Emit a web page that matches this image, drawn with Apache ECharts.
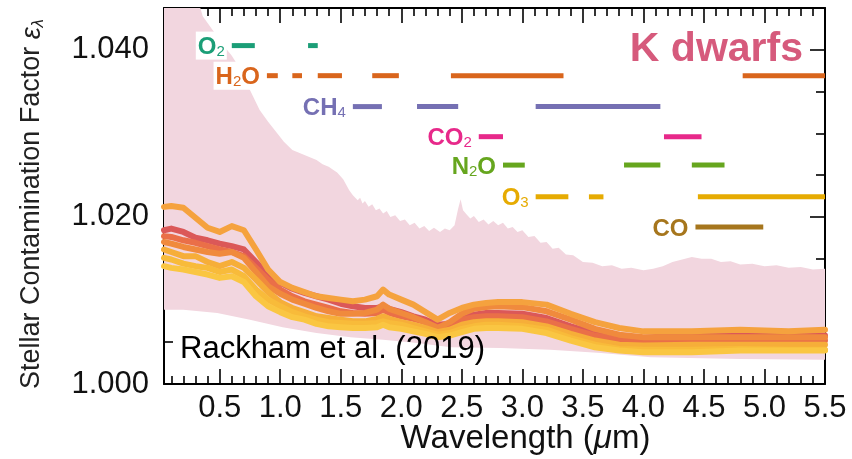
<!DOCTYPE html>
<html>
<head>
<meta charset="utf-8">
<script src="https://cdn.jsdelivr.net/npm/echarts@6/dist/echarts.min.js"></script>
<style>
  html, body { margin: 0; padding: 0; background: #fff; }
  #chart { width: 852px; height: 459px; }
</style>
</head>
<body>
<div id="chart"></div>
<script>
// Wavelength grid (µm) shared by the contamination-factor curves
const wavelength = [0.04, 0.1, 0.2, 0.3, 0.4, 0.5, 0.6, 0.7, 0.8, 0.9,
  1.0, 1.1, 1.2, 1.3, 1.4, 1.5, 1.6, 1.7, 1.8, 1.85,
  1.9, 2.0, 2.1, 2.2, 2.3, 2.4, 2.5, 2.6, 2.7, 2.8,
  3.0, 3.2, 3.4, 3.6, 3.8, 4.0, 4.4, 4.8, 5.2, 5.5];

// Stellar contamination factor curves for the K-dwarf spot/faculae models
const curveRed = [1.0184, 1.0186, 1.0182, 1.0175, 1.0172, 1.0168, 1.0165, 1.0161, 1.0146, 1.0131,
  1.0121, 1.0114, 1.0109, 1.0105, 1.0101, 1.0096, 1.0093, 1.0091, 1.0091, 1.0093,
  1.0090, 1.0086, 1.0081, 1.0077, 1.0071, 1.0072, 1.0079, 1.0083, 1.0085, 1.0085,
  1.0084, 1.0079, 1.0069, 1.0061, 1.0056, 1.0055, 1.0060, 1.0060, 1.0058, 1.0058];
const curveRedOrange = [1.0177, 1.0176, 1.0172, 1.0169, 1.0165, 1.0161, 1.0158, 1.0153, 1.0139, 1.0125,
  1.0113, 1.0105, 1.0099, 1.0095, 1.0091, 1.0087, 1.0085, 1.0084, 1.0085, 1.0089,
  1.0085, 1.0081, 1.0078, 1.0074, 1.0068, 1.0069, 1.0077, 1.0080, 1.0081, 1.0081,
  1.0080, 1.0075, 1.0066, 1.0058, 1.0053, 1.0052, 1.0053, 1.0053, 1.0052, 1.0052];
const curveOrange = [1.0170, 1.0168, 1.0164, 1.0161, 1.0158, 1.0156, 1.0158, 1.0151, 1.0134, 1.0117,
  1.0108, 1.0101, 1.0096, 1.0091, 1.0087, 1.0084, 1.0084, 1.0085, 1.0089, 1.0095,
  1.0090, 1.0085, 1.0080, 1.0074, 1.0067, 1.0074, 1.0084, 1.0090, 1.0092, 1.0093,
  1.0092, 1.0087, 1.0077, 1.0066, 1.0059, 1.0056, 1.0056, 1.0056, 1.0056, 1.0056];
const curveAmber = [1.0212, 1.0213, 1.0211, 1.0199, 1.0187, 1.0182, 1.0189, 1.0184, 1.0161, 1.0137,
  1.0122, 1.0115, 1.0110, 1.0105, 1.0103, 1.0101, 1.0099, 1.0101, 1.0105, 1.0113,
  1.0107, 1.0101, 1.0095, 1.0086, 1.0077, 1.0085, 1.0091, 1.0095, 1.0097, 1.0098,
  1.0098, 1.0095, 1.0084, 1.0074, 1.0067, 1.0063, 1.0063, 1.0065, 1.0063, 1.0065];
const curveGold = [1.0161, 1.0158, 1.0153, 1.0153, 1.0146, 1.0141, 1.0146, 1.0139, 1.0125, 1.0110,
  1.0098, 1.0091, 1.0086, 1.0081, 1.0079, 1.0077, 1.0075, 1.0075, 1.0078, 1.0081,
  1.0078, 1.0074, 1.0071, 1.0067, 1.0062, 1.0065, 1.0071, 1.0074, 1.0075, 1.0075,
  1.0074, 1.0069, 1.0060, 1.0052, 1.0047, 1.0046, 1.0047, 1.0047, 1.0047, 1.0047];
const curveYellow = [1.0151, 1.0149, 1.0144, 1.0141, 1.0139, 1.0134, 1.0137, 1.0129, 1.0113, 1.0101,
  1.0093, 1.0086, 1.0081, 1.0077, 1.0074, 1.0073, 1.0072, 1.0072, 1.0073, 1.0075,
  1.0073, 1.0071, 1.0067, 1.0063, 1.0059, 1.0061, 1.0066, 1.0069, 1.0071, 1.0071,
  1.0069, 1.0065, 1.0055, 1.0047, 1.0042, 1.0041, 1.0041, 1.0042, 1.0041, 1.0041];
const curvePaleYellow = [1.0141, 1.0139, 1.0137, 1.0134, 1.0131, 1.0127, 1.0129, 1.0122, 1.0105, 1.0093,
  1.0086, 1.0080, 1.0077, 1.0072, 1.0069, 1.0068, 1.0067, 1.0067, 1.0068, 1.0071,
  1.0068, 1.0066, 1.0063, 1.0060, 1.0056, 1.0058, 1.0062, 1.0066, 1.0067, 1.0067,
  1.0066, 1.0061, 1.0052, 1.0044, 1.0040, 1.0038, 1.0038, 1.0040, 1.0040, 1.0040];

// Full range of the contamination factor: upper and lower edges [wavelength, factor]
const envelopeUpper = [[0.04, 1.0450], [0.34, 1.0450], [0.36, 1.0440], [0.40, 1.0432], [0.44, 1.0424],
  [0.50, 1.0412], [0.56, 1.0400], [0.60, 1.0393], [0.63, 1.0386], [0.69, 1.0368], [0.75, 1.0352],
  [0.79, 1.0340], [0.83, 1.0328], [0.90, 1.0314], [0.97, 1.0301], [1.03, 1.0290], [1.10, 1.0280],
  [1.15, 1.0277], [1.20, 1.0274], [1.25, 1.0271], [1.30, 1.0268], [1.35, 1.0263], [1.40, 1.0260],
  [1.47, 1.0253], [1.52, 1.0245], [1.57, 1.0232], [1.60, 1.0226], [1.64, 1.0220], [1.66, 1.0223],
  [1.68, 1.0216], [1.70, 1.0219], [1.73, 1.0212], [1.76, 1.0215], [1.79, 1.0208], [1.82, 1.0210],
  [1.85, 1.0204], [1.88, 1.0207], [1.91, 1.0200], [1.95, 1.0202], [1.99, 1.0195], [2.03, 1.0197],
  [2.07, 1.0190], [2.11, 1.0193], [2.15, 1.0186], [2.19, 1.0189], [2.23, 1.0183], [2.27, 1.0187],
  [2.32, 1.0182], [2.36, 1.0186], [2.40, 1.0184], [2.44, 1.0190], [2.47, 1.0210], [2.49, 1.0221],
  [2.51, 1.0208], [2.54, 1.0203], [2.57, 1.0198], [2.60, 1.0201], [2.64, 1.0194], [2.68, 1.0197],
  [2.72, 1.0191], [2.76, 1.0195], [2.80, 1.0190], [2.84, 1.0193], [2.88, 1.0186], [2.92, 1.0188],
  [2.96, 1.0182], [3.00, 1.0184], [3.05, 1.0176], [3.10, 1.0177], [3.15, 1.0169], [3.20, 1.0170],
  [3.25, 1.0162], [3.30, 1.0163], [3.36, 1.0155], [3.42, 1.0154], [3.50, 1.0146], [3.58, 1.0145],
  [3.66, 1.0141], [3.74, 1.0142], [3.82, 1.0138], [3.90, 1.0139], [4.00, 1.0136], [4.08, 1.0138],
  [4.16, 1.0141], [4.24, 1.0146], [4.32, 1.0149], [4.40, 1.0152], [4.48, 1.0150], [4.56, 1.0150],
  [4.64, 1.0146], [4.72, 1.0147], [4.80, 1.0143], [4.90, 1.0144], [5.00, 1.0141], [5.10, 1.0142],
  [5.20, 1.0139], [5.30, 1.0140], [5.40, 1.0137], [5.50, 1.0138]];
const envelopeLower = [[0.04, 1.0089], [0.20, 1.0089], [0.48, 1.0085], [0.75, 1.0077], [1.02, 1.0068],
  [1.30, 1.0061], [1.58, 1.0056], [1.85, 1.0053], [2.13, 1.0049], [2.41, 1.0044], [2.82, 1.0043],
  [3.23, 1.0041], [3.65, 1.0037], [4.06, 1.0032], [4.80, 1.0030], [5.50, 1.0029]];

// Molecular absorption bands (µm ranges) and the row each is drawn on
const moleculeNames = ['O2', 'H2O', 'CH4', 'CO2', 'N2O', 'O3', 'CO'];
const moleculeRows = [1.0405, 1.0369, 1.0332, 1.0296, 1.0262, 1.0224, 1.0188];
const bandsO2 = [[0.60, 0.79], [1.23, 1.31]];
const bandsH2O = [[0.89, 0.98], [1.10, 1.18], [1.31, 1.51], [1.76, 1.98], [2.41, 3.34], [4.82, 5.50]];
const bandsCH4 = [[1.60, 1.84], [2.13, 2.47], [3.11, 4.14]];
const bandsCO2 = [[2.64, 2.84], [4.17, 4.48]];
const bandsN2O = [[2.84, 3.02], [3.84, 4.14], [4.40, 4.67]];
const bandsO3 = [[3.11, 3.38], [3.55, 3.67], [4.45, 5.50]];
const bandsCO = [[4.43, 4.99]];

// Axis ticks
const xMajorTicks = [0.5, 1.0, 1.5, 2.0, 2.5, 3.0, 3.5, 4.0, 4.5, 5.0, 5.5];
const yMajorTicks = [1.000, 1.020, 1.040];
const yMinorTicks = [1.005, 1.010, 1.015, 1.025, 1.030, 1.035];
const xMinorTicks = [];
for (let i = 1; i <= 54; i++) { if (i % 5 !== 0) xMinorTicks.push(i / 10); }

const FONT = 'Liberation Sans, Arial, Helvetica, sans-serif';
const X_MIN = 0.04, X_MAX = 5.5, Y_MIN = 1.0, Y_MAX = 1.045;

const bandSets = [bandsO2, bandsH2O, bandsCH4, bandsCO2, bandsN2O, bandsO3, bandsCO];
const bandColors = ['#1b9e77', '#d9651c', '#7570b3', '#e7298a', '#66a61e', '#e6ab02', '#a6761d'];
const bandLabels = ['{b|O}{s|2}', '{b|H}{s|2}{b|O}', '{b|CH}{s|4}', '{b|CO}{s|2}', '{b|N}{s|2}{b|O}', '{b|O}{s|3}', '{b|CO}'];

const curveSeries = [
  { name: 'red', data: curveRed, color: '#db5858' },
  { name: 'redOrange', data: curveRedOrange, color: '#ea6f48' },
  { name: 'orange', data: curveOrange, color: '#f08a3d' },
  { name: 'amber', data: curveAmber, color: '#f5a23e' },
  { name: 'gold', data: curveGold, color: '#f6ae39' },
  { name: 'yellow', data: curveYellow, color: '#f8bb3a' },
  { name: 'paleYellow', data: curvePaleYellow, color: '#fac642' }
].map(c => ({
  type: 'line',
  name: c.name,
  data: wavelength.map((w, i) => [w, c.data[i]]),
  showSymbol: false,
  silent: true,
  clip: true,
  lineStyle: { color: c.color, width: 6, join: 'round', cap: 'round' },
  z: 3
}));

const bandSeries = [];
bandSets.forEach((spans, k) => {
  bandSeries.push({
    type: 'custom',
    name: moleculeNames[k] + ' bands',
    silent: true,
    z: 5,
    data: spans.map(s => [s[0], s[1], moleculeRows[k]]),
    encode: { x: [0, 1], y: 2 },
    renderItem: (params, api) => {
      const p0 = api.coord([api.value(0), api.value(2)]);
      const p1 = api.coord([api.value(1), api.value(2)]);
      return {
        type: 'line',
        shape: { x1: p0[0], y1: p0[1], x2: p1[0], y2: p1[1] },
        style: { stroke: bandColors[k], lineWidth: 5, lineCap: 'butt' }
      };
    }
  });
  bandSeries.push({
    type: 'scatter',
    name: moleculeNames[k],
    silent: true,
    z: 6,
    symbolSize: 0,
    itemStyle: { opacity: 1 },
    data: [[spans[0][0], moleculeRows[k]]],
    label: {
      show: true,
      position: 'left',
      distance: 5,
      formatter: bandLabels[k],
      backgroundColor: '#ffffff',
      padding: [0, 2, 0, 2],
      rich: {
        b: { fontFamily: FONT, fontSize: 24, fontWeight: 'bold', color: bandColors[k], lineHeight: 28, verticalAlign: 'bottom' },
        s: { fontFamily: FONT, fontSize: 15, color: bandColors[k], lineHeight: 14, verticalAlign: 'bottom' }
      }
    }
  });
});

const envelopeSeries = {
  type: 'custom',
  name: 'range',
  silent: true,
  z: 1,
  data: [envelopeUpper[0]],
  renderItem: (params, api) => {
    const pts = envelopeUpper.map(p => api.coord(p));
    for (let i = envelopeLower.length - 1; i >= 0; i--) pts.push(api.coord(envelopeLower[i]));
    return { type: 'polygon', shape: { points: pts }, style: { fill: '#f2d6df' } };
  }
};

const axisLineStyle = { color: '#000', width: 2 };
const tickStyle = { color: '#000', width: 1.6 };

function xAxisDef(position, major) {
  return {
    type: 'value', position, min: X_MIN, max: X_MAX,
    axisLine: { show: major, lineStyle: axisLineStyle },
    axisTick: { show: true, inside: true, length: major ? 15 : 8, customValues: major ? xMajorTicks : xMinorTicks, lineStyle: tickStyle },
    axisLabel: { show: false },
    splitLine: { show: false }
  };
}
function yAxisDef(position, major) {
  return {
    type: 'value', position, min: Y_MIN, max: Y_MAX,
    axisLine: { show: major, lineStyle: axisLineStyle },
    axisTick: { show: true, inside: true, length: major ? 15 : 9, customValues: major ? yMajorTicks : yMinorTicks, lineStyle: tickStyle },
    axisLabel: { show: false },
    splitLine: { show: false }
  };
}

const xBottom = xAxisDef('bottom', true);
xBottom.axisLabel = {
  show: true, customValues: xMajorTicks, formatter: v => v.toFixed(1),
  fontFamily: FONT, fontSize: 31, color: '#111', margin: 9
};
xBottom.name = 'Wavelength ({i|μ}m)';
xBottom.nameLocation = 'middle';
xBottom.nameGap = 37;
xBottom.nameMoveOverlap = false;
xBottom.nameTextStyle = {
  fontFamily: FONT, fontSize: 33, color: '#111', lineHeight: 36, padding: [0, 0, 0, 62],
  rich: { i: { fontFamily: FONT, fontSize: 33, fontStyle: 'italic', color: '#111', lineHeight: 36 } }
};

const yLeft = yAxisDef('left', true);
yLeft.axisLabel = {
  show: true, customValues: yMajorTicks, formatter: v => v.toFixed(3),
  fontFamily: FONT, fontSize: 31, color: '#111', margin: 15
};
yLeft.name = 'Stellar Contamination Factor {e|ε}{l|λ}';
yLeft.nameLocation = 'middle';
yLeft.nameGap = 117;
yLeft.nameTextStyle = {
  fontFamily: FONT, fontSize: 27, color: '#222', lineHeight: 30, padding: [0, 16, 0, 0],
  rich: {
    e: { fontFamily: FONT, fontSize: 27, fontStyle: 'italic', color: '#222', lineHeight: 30 },
    l: { fontFamily: FONT, fontSize: 17, fontStyle: 'italic', color: '#222', lineHeight: 16, verticalAlign: 'bottom' }
  }
};

const option = {
  animation: false,
  backgroundColor: '#ffffff',
  grid: { left: 164, right: 27, top: 8, bottom: 75, containLabel: false, outerBoundsMode: 'none' },
  xAxis: [xBottom, xAxisDef('bottom', false), xAxisDef('top', true), xAxisDef('top', false)],
  yAxis: [yLeft, yAxisDef('left', false), yAxisDef('right', true), yAxisDef('right', false)],
  graphic: [
    {
      type: 'text', x: 180, y: 349, z: 100, silent: true,
      style: { text: 'Rackham et al. (2019)', fontFamily: FONT, fontSize: 31, fill: '#000', align: 'left', verticalAlign: 'middle' }
    },
    {
      type: 'text', x: 803, y: 50, z: 100, silent: true,
      style: { text: 'K dwarfs', fontFamily: FONT, fontSize: 41, fontWeight: 'bold', fill: '#d65a7c', align: 'right', verticalAlign: 'middle' }
    }
  ],
  series: [envelopeSeries, ...curveSeries, ...bandSeries]
};

const chart = echarts.init(document.getElementById('chart'));
chart.setOption(option);
</script>
</body>
</html>
